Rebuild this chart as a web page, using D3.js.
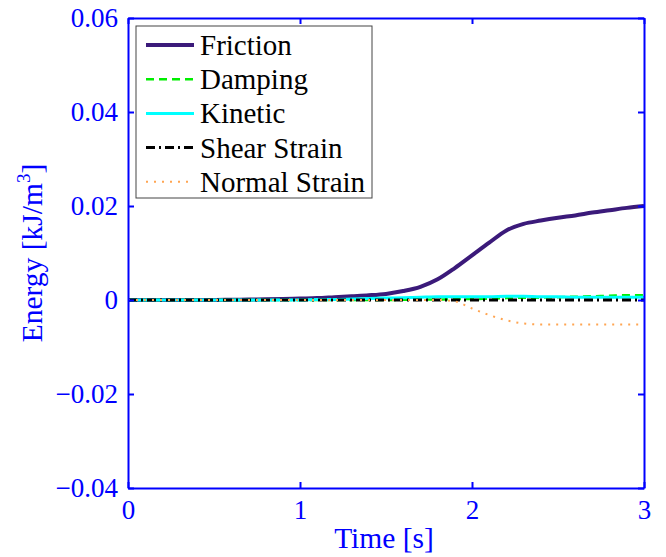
<!DOCTYPE html>
<html>
<head>
<meta charset="utf-8">
<script src="https://cdn.jsdelivr.net/npm/d3@7"></script>
<style>
  html, body { margin: 0; padding: 0; background: #fff; }
  svg { display: block; }
</style>
</head>
<body>
<svg id="chart" width="666" height="557"></svg>
<script>
// ---- data ----
const time = [0,0.1,0.2,0.3,0.4,0.5,0.6,0.7,0.8,0.9,1.0,1.1,1.2,1.3,1.4,1.5,1.6,1.7,1.8,1.9,2.0,2.1,2.2,2.3,2.4,2.5,2.6,2.7,2.8,2.9,3.0];
const friction = [0,0,0,0,0,0,0.00005,0.0001,0.00015,0.0002,0.0003,0.0004,0.0006,0.0008,0.001,0.0013,0.0019,0.0028,0.0044,0.0068,0.0095,0.0122,0.0148,0.0162,0.0169,0.0175,0.018,0.0186,0.0191,0.0196,0.02];
const damping = [0,0,0,0,0,0,0,0,0,0,0,0,0,0,0,0,0.00005,0.0001,0.0001,0.0002,0.0002,0.0003,0.0004,0.0005,0.0005,0.0006,0.0007,0.0008,0.0009,0.001,0.001];
const kinetic = [0,0,0,0,0,0,0,0,0,0,0,0.0001,0.0001,0.0002,0.0003,0.0004,0.0005,0.0006,0.0007,0.0007,0.0007,0.0007,0.0008,0.0008,0.0007,0.0007,0.0006,0.0006,0.0006,0.0006,0.0006];
const shearStrain = [0,0,0,0,0,0,0,0,0,0,0,0,0,0,0,0,0,0,0,0,0,0,0,0,0,0,0,0,0,0,0];
const normalStrain = [0,0,0,0,0,0,0,0,0,0,0,0,0,0,0,0,0,0,0,-0.0003,-0.0018,-0.0032,-0.0043,-0.005,-0.0052,-0.0052,-0.0052,-0.0052,-0.0052,-0.0052,-0.0052];
const seriesNames = ["Friction","Damping","Kinetic","Shear Strain","Normal Strain"];
const xTicks = [0,1,2,3];
const yTicks = [-0.04,-0.02,0,0.02,0.04,0.06];
const xLabel = "Time [s]";

(function(){
// ---- styles ----
const styles = [
  {color:"#3b1a7a", width:4,   dash:null},
  {color:"#00ee00", width:2.5, dash:"8,5"},
  {color:"#00ffff", width:3,   dash:null},
  {color:"#000000", width:3,   dash:"9,4,2,4"},
  {color:"#ffa552", width:2,   dash:"2,6"}
];
const seriesValues = [friction, damping, kinetic, shearStrain, normalStrain];

const svg = d3.select("#chart");
const pL = 128, pR = 644, pT = 18, pB = 488;
const x = d3.scaleLinear().domain([0,3]).range([pL,pR]);
const y = d3.scaleLinear().domain([-0.04,0.06]).range([pB,pT]);
const blue = "#0000ff";
const font = "'Liberation Serif','Times New Roman',serif";

// lines
const line = d3.line().x((d,i)=>x(time[i])).y(d=>y(d)).curve(d3.curveMonotoneX);
seriesValues.forEach((vals,k)=>{
  const s = styles[k];
  svg.append("path").datum(vals).attr("d", line)
    .attr("fill","none").attr("stroke", s.color).attr("stroke-width", s.width)
    .attr("stroke-dasharray", s.dash).attr("stroke-linejoin","round");
});

// axes (box with ticks on all sides)
const fmtY = d => d === 0 ? "0" : d3.format(".2f")(d).replace("-","\u2212");
const axL = d3.axisLeft(y).tickValues(yTicks).tickSizeInner(-6).tickSizeOuter(0).tickPadding(10).tickFormat(fmtY);
const axR = d3.axisRight(y).tickValues(yTicks).tickSizeInner(-6).tickSizeOuter(0).tickFormat("");
const axB = d3.axisBottom(x).tickValues(xTicks).tickSizeInner(-6).tickSizeOuter(0).tickPadding(12).tickFormat(d3.format("d"));
const axT = d3.axisTop(x).tickValues(xTicks).tickSizeInner(-6).tickSizeOuter(0).tickFormat("");
function styleAxis(g){
  g.select(".domain").attr("stroke", blue).attr("stroke-width",2);
  g.selectAll(".tick line").attr("stroke", blue).attr("stroke-width",2);
  g.selectAll(".tick text").attr("fill", blue).style("font-family", font).style("font-size","27px");
}
svg.append("g").attr("transform",`translate(${pL},0)`).call(axL).call(styleAxis);
svg.append("g").attr("transform",`translate(${pR},0)`).call(axR).call(styleAxis);
svg.append("g").attr("transform",`translate(0,${pB})`).call(axB).call(styleAxis);
svg.append("g").attr("transform",`translate(0,${pT})`).call(axT).call(styleAxis);

// axis labels
svg.append("text").attr("x", (pL+pR)/2 - 2).attr("y", 548).attr("text-anchor","middle")
  .attr("fill", blue).style("font-family", font).style("font-size","29.5px").text(xLabel);
const yl = svg.append("text").attr("transform", `translate(42,${(pT+pB)/2}) rotate(-90)`)
  .attr("text-anchor","middle").attr("fill", blue).style("font-family", font).style("font-size","29.5px");
yl.append("tspan").text("Energy [kJ/m");
yl.append("tspan").attr("dy",-12).style("font-size","19px").text("3");
yl.append("tspan").attr("dy",12).text("]");

// legend
const lg = svg.append("g");
lg.append("rect").attr("x",136).attr("y",26).attr("width",236).attr("height",172)
  .attr("fill","#fff").attr("stroke","#444").attr("stroke-width",1);
seriesNames.forEach((name,k)=>{
  const cy = 45 + k*34.2;
  const s = styles[k];
  lg.append("line").attr("x1",146).attr("x2",194).attr("y1",cy).attr("y2",cy)
    .attr("stroke", s.color).attr("stroke-width", s.width).attr("stroke-dasharray", s.dash);
  lg.append("text").attr("x",200).attr("y",cy+10).attr("fill","#000")
    .style("font-family", font).style("font-size","29px").text(name);
});
})();
</script>
</body>
</html>
